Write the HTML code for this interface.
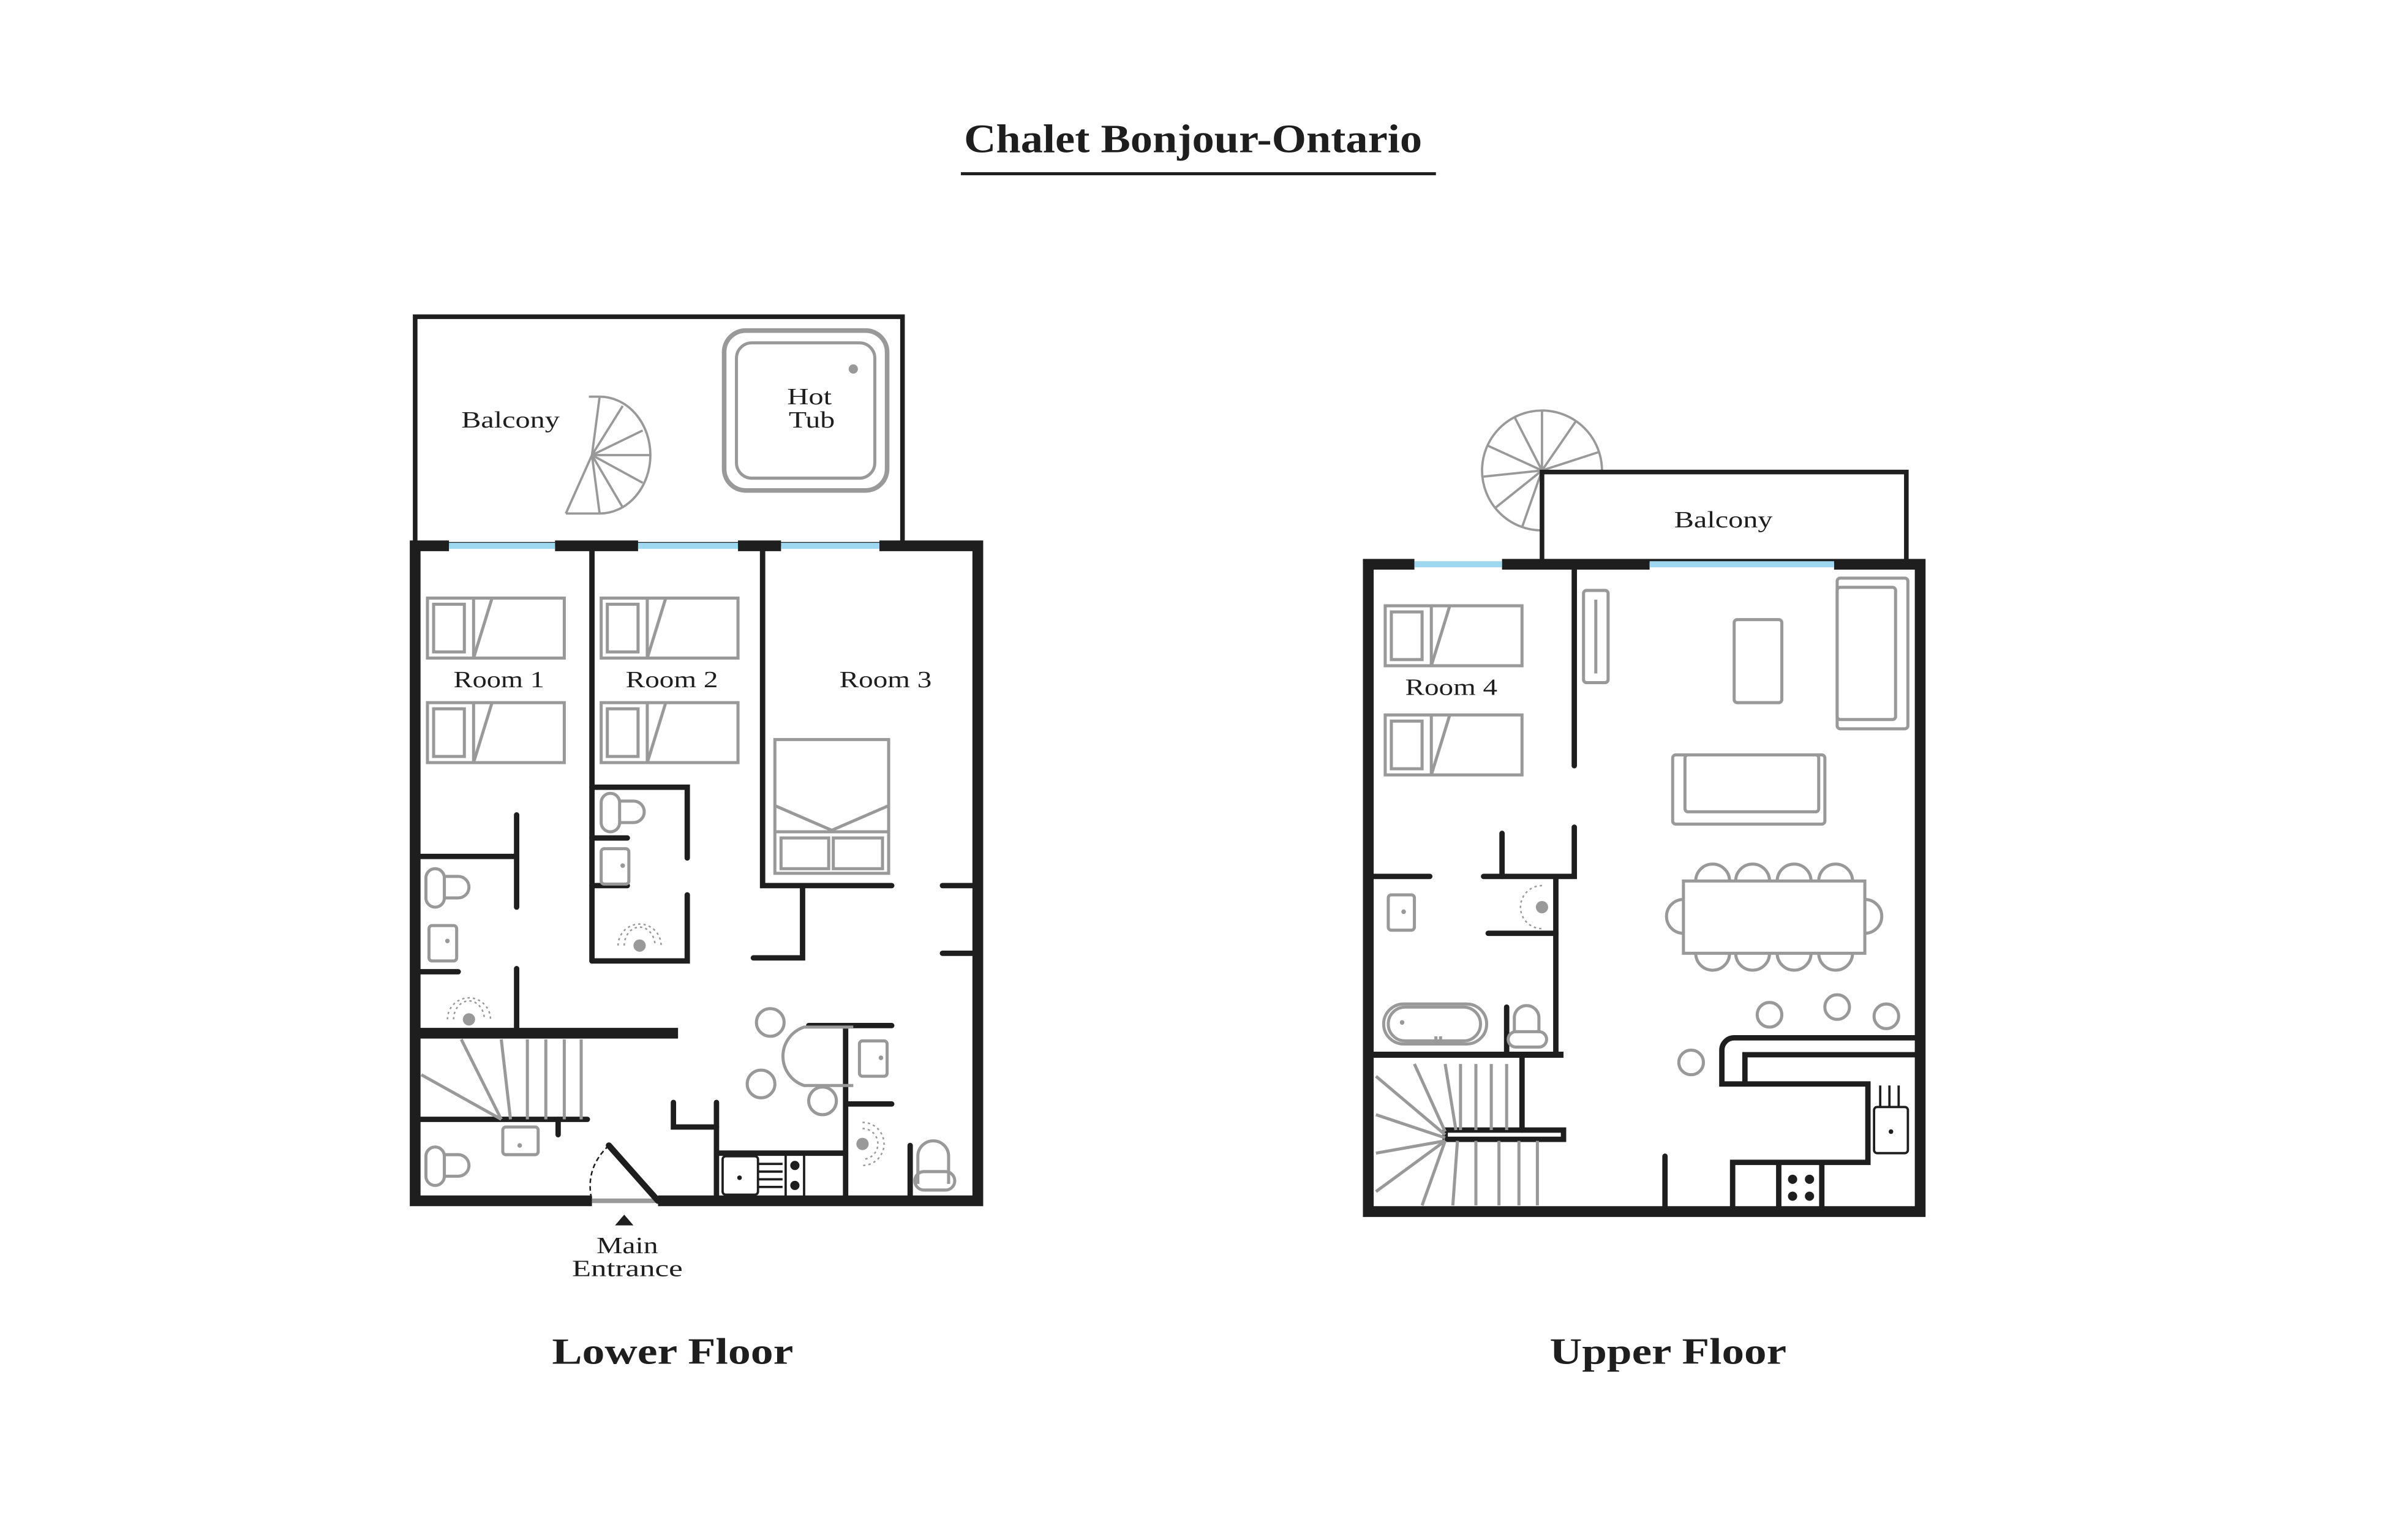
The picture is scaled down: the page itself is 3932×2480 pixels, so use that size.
<!DOCTYPE html>
<html><head><meta charset="utf-8"><style>
html,body{margin:0;padding:0;background:#fff;}
svg{display:block;}
text{font-family:"Liberation Serif",serif;fill:#1e1e1e;}
</style></head><body>
<svg width="3932" height="2480" viewBox="0 0 1560 984" xmlns="http://www.w3.org/2000/svg">
<rect width="1560" height="984" fill="#fff"/>
<g transform="scale(0.996)">
<text x="627" y="99" font-size="26" font-weight="bold" textLength="298" lengthAdjust="spacingAndGlyphs">Chalet Bonjour-Ontario</text>
<line x1="625" y1="113" x2="934" y2="113" stroke="#1e1e1e" stroke-width="2"/>

<!-- LOWER FLOOR -->
<rect x="270" y="206" width="317" height="148" fill="none" stroke="#1e1e1e" stroke-width="3"/>
<rect x="471" y="215" width="106" height="104" rx="14" fill="none" stroke="#999" stroke-width="3"/>
<rect x="479" y="223" width="90" height="88" rx="10" fill="none" stroke="#999" stroke-width="2"/>
<circle cx="555" cy="240" r="3" fill="#999"/>
<text x="512" y="263" font-size="15" textLength="29" lengthAdjust="spacingAndGlyphs">Hot</text>
<text x="513" y="278" font-size="15" textLength="30" lengthAdjust="spacingAndGlyphs">Tub</text>
<text x="300" y="278" font-size="15" textLength="64" lengthAdjust="spacingAndGlyphs">Balcony</text>
<g stroke="#999" stroke-width="1.5" fill="none">
<path d="M390 258 A33 38 0 0 1 390 334"/>
<line x1="385" y1="296" x2="390" y2="258"/><line x1="385" y1="296" x2="405" y2="264"/><line x1="385" y1="296" x2="418" y2="280"/><line x1="385" y1="296" x2="423" y2="296"/><line x1="385" y1="296" x2="418" y2="314"/><line x1="385" y1="296" x2="405" y2="330"/><line x1="385" y1="296" x2="390" y2="334"/><line x1="385" y1="296" x2="368" y2="334"/>
<line x1="368" y1="334" x2="390" y2="334"/><line x1="390" y1="258" x2="383" y2="258"/>
</g>
<g stroke="#1e1e1e" stroke-width="7" fill="none">
<polyline points="385,781 270,781 270,355 292,355"/>
<line x1="361" y1="355" x2="415" y2="355"/>
<line x1="480" y1="355" x2="508" y2="355"/>
<polyline points="572,355 636,355 636,781 428,781"/>
<line x1="270" y1="672" x2="441" y2="672"/>
</g>
<g stroke="#9dd8f0" stroke-width="4">
<line x1="292" y1="355" x2="361" y2="355"/><line x1="415" y1="355" x2="480" y2="355"/><line x1="508" y1="355" x2="572" y2="355"/>
</g>
<line x1="385" y1="781" x2="428" y2="781" stroke="#999" stroke-width="3"/>
<g stroke="#1e1e1e" stroke-width="3.5" fill="none" stroke-linecap="round">
<line x1="385" y1="355" x2="385" y2="625"/>
<polyline points="385,625 447,625 447,582"/>
<polyline points="385,512 447,512 447,558"/>
<line x1="385" y1="545" x2="408" y2="545"/>
<line x1="385" y1="576" x2="408" y2="576"/>
<polyline points="496,355 496,576 580,576"/>
<polyline points="522,578 522,623 490,623"/>
<line x1="613" y1="576" x2="636" y2="576"/>
<line x1="613" y1="620" x2="636" y2="620"/>
<line x1="270" y1="557" x2="336" y2="557"/>
<line x1="336" y1="530" x2="336" y2="590"/>
<line x1="336" y1="630" x2="336" y2="670"/>
<line x1="270" y1="632" x2="298" y2="632"/>
<line x1="270" y1="728" x2="382" y2="728"/>
<line x1="363" y1="728" x2="363" y2="738"/>
<polyline points="438,717 438,733 466,733"/>
<line x1="466" y1="717" x2="466" y2="781"/>
<line x1="466" y1="750" x2="550" y2="750"/>
<line x1="550" y1="667" x2="550" y2="781"/>
<line x1="526" y1="667" x2="580" y2="667"/>
<line x1="550" y1="718" x2="580" y2="718"/>
<line x1="592" y1="745" x2="592" y2="781"/>
<line x1="396" y1="745" x2="428" y2="781" stroke-width="4"/>
</g>
<path d="M396 745 Q380 760 385 781" stroke="#1e1e1e" stroke-width="1" stroke-dasharray="3,2" fill="none"/>
<polygon points="406,790 412,797 400,797" fill="#1e1e1e"/>
<text x="388" y="815" font-size="15" textLength="40" lengthAdjust="spacingAndGlyphs">Main</text>
<text x="372" y="830" font-size="15" textLength="72" lengthAdjust="spacingAndGlyphs">Entrance</text>
<g stroke="#999" stroke-width="2" fill="none">
<rect x="278" y="389" width="89" height="39"/><rect x="282" y="393" width="20" height="31"/><line x1="308" y1="389" x2="308" y2="428"/><line x1="308" y1="428" x2="320" y2="389"/>
<rect x="278" y="457" width="89" height="39"/><rect x="282" y="461" width="20" height="31"/><line x1="308" y1="457" x2="308" y2="496"/><line x1="308" y1="496" x2="320" y2="457"/>
<rect x="391" y="389" width="89" height="39"/><rect x="395" y="393" width="20" height="31"/><line x1="421" y1="389" x2="421" y2="428"/><line x1="421" y1="428" x2="433" y2="389"/>
<rect x="391" y="457" width="89" height="39"/><rect x="395" y="461" width="20" height="31"/><line x1="421" y1="457" x2="421" y2="496"/><line x1="421" y1="496" x2="433" y2="457"/>
<rect x="504" y="481" width="74" height="87"/><polyline points="504,524 541,540 578,524"/><line x1="504" y1="541" x2="578" y2="541"/>
<rect x="508" y="545" width="31" height="20"/><rect x="542" y="545" width="32" height="20"/>
<rect x="277" y="565" width="12" height="25" rx="6"/><path d="M289 570 h9 a7 7 0 0 1 0 14 h-9"/>
<rect x="391" y="516" width="12" height="25" rx="6"/><path d="M403 521 h9 a7 7 0 0 1 0 14 h-9"/>
<rect x="277" y="746" width="12" height="25" rx="6"/><path d="M289 751 h9 a7 7 0 0 1 0 14 h-9"/>
<path d="M597 770 v-18 a10 10 0 0 1 20 0 v18"/><rect x="595" y="762" width="26" height="12" rx="6"/>
<rect x="279" y="602" width="18" height="23" rx="2"/>
<rect x="391" y="552" width="18" height="23" rx="2"/>
<rect x="559" y="677" width="18" height="23" rx="2"/>
<rect x="327" y="733" width="23" height="18" rx="2"/>
<path d="M555 668 H523 A20 20 0 0 0 523 706 H555"/>
<circle cx="501" cy="665" r="9"/><circle cx="495" cy="705" r="9"/><circle cx="535" cy="716" r="9"/>
<line x1="274" y1="699" x2="326" y2="728"/><line x1="300" y1="676" x2="326" y2="728"/><line x1="326" y1="676" x2="332" y2="728"/>
<line x1="343" y1="676" x2="343" y2="728"/><line x1="355" y1="676" x2="355" y2="728"/><line x1="367" y1="676" x2="367" y2="728"/><line x1="378" y1="676" x2="378" y2="728"/>
</g>
<g fill="#999">
<circle cx="305" cy="663" r="4"/><circle cx="416" cy="615" r="4"/><circle cx="561" cy="744" r="4"/>
<circle cx="291" cy="612" r="1.5"/><circle cx="405" cy="563" r="1.5"/><circle cx="573" cy="688" r="1.5"/><circle cx="338" cy="745" r="1.5"/>
</g>
<g stroke="#999" stroke-width="1" stroke-dasharray="1.5,2" fill="none">
<path d="M291 663 A14 14 0 0 1 319 663"/><path d="M295 663 A10 12 0 0 1 315 663"/>
<path d="M402 615 A14 14 0 0 1 430 615"/><path d="M406 615 A10 12 0 0 1 426 615"/>
<path d="M561 730 A14 14 0 0 1 561 758"/><path d="M561 734 A10 10 0 0 1 561 754"/>
</g>
<g stroke="#1e1e1e" stroke-width="1.5" fill="none">
<rect x="470" y="752" width="23" height="25" rx="2"/>
<line x1="493" y1="757" x2="509" y2="757"/><line x1="493" y1="762" x2="509" y2="762"/><line x1="493" y1="767" x2="509" y2="767"/><line x1="493" y1="772" x2="509" y2="772"/>
<line x1="511" y1="750" x2="511" y2="781"/><line x1="523" y1="750" x2="523" y2="781"/>
</g>
<circle cx="517" cy="758" r="3" fill="#1e1e1e"/><circle cx="517" cy="771" r="3" fill="#1e1e1e"/><circle cx="481" cy="766" r="1.5" fill="#1e1e1e"/>
<text x="295" y="447" font-size="15" textLength="59" lengthAdjust="spacingAndGlyphs">Room 1</text>
<text x="407" y="447" font-size="15" textLength="60" lengthAdjust="spacingAndGlyphs">Room 2</text>
<text x="546" y="447" font-size="15" textLength="60" lengthAdjust="spacingAndGlyphs">Room 3</text>
<text x="359" y="887" font-size="24" font-weight="bold" textLength="157" lengthAdjust="spacingAndGlyphs">Lower Floor</text>

<!-- UPPER FLOOR -->
<g stroke="#999" stroke-width="1.5" fill="none">
<circle cx="1003" cy="306" r="39"/>
<line x1="1003" y1="306" x2="1003" y2="267"/><line x1="1003" y1="306" x2="1025" y2="274"/><line x1="1003" y1="306" x2="1040" y2="294"/><line x1="1003" y1="306" x2="985" y2="271"/><line x1="1003" y1="306" x2="968" y2="290"/><line x1="1003" y1="306" x2="965" y2="310"/><line x1="1003" y1="306" x2="973" y2="330"/><line x1="1003" y1="306" x2="990" y2="343"/>
</g>
<rect x="1003" y="307" width="237" height="58" fill="#fff" stroke="#1e1e1e" stroke-width="3"/>
<text x="1089" y="343" font-size="15" textLength="64" lengthAdjust="spacingAndGlyphs">Balcony</text>
<g stroke="#1e1e1e" stroke-width="7" fill="none">
<polyline points="920,367 890,367 890,788 1249,788 1249,367 1193,367"/>
<line x1="977" y1="367" x2="1073" y2="367"/>
<line x1="890" y1="686" x2="1017" y2="686" stroke-width="4"/>
</g>
<g stroke="#9dd8f0" stroke-width="4"><line x1="920" y1="367" x2="977" y2="367"/><line x1="1073" y1="367" x2="1193" y2="367"/></g>
<g stroke="#1e1e1e" stroke-width="3.5" fill="none" stroke-linecap="round">
<line x1="1024" y1="370" x2="1024" y2="498"/>
<polyline points="1024,538 1024,570 965,570"/>
<line x1="977" y1="542" x2="977" y2="570"/>
<line x1="890" y1="570" x2="930" y2="570"/>
<line x1="1012" y1="570" x2="1012" y2="686"/>
<line x1="968" y1="607" x2="1012" y2="607"/>
<line x1="980" y1="655" x2="980" y2="686"/>
<line x1="990" y1="686" x2="990" y2="735"/>
<polyline points="990,735 1017,735 1017,741 940,741 940,735 990,735"/>
<line x1="1083" y1="752" x2="1083" y2="788"/>
<path d="M1249 675 H1128 A8 8 0 0 0 1120 683 V705 H1215 V756 H1127 V788"/>
<polyline points="1249,686 1135,686 1135,705"/>
<line x1="1157" y1="756" x2="1157" y2="788"/><line x1="1185" y1="756" x2="1185" y2="788"/>
</g>
<g fill="#1e1e1e"><circle cx="1166" cy="767" r="3"/><circle cx="1177" cy="767" r="3"/><circle cx="1166" cy="778" r="3"/><circle cx="1177" cy="778" r="3"/></g>
<g stroke="#1e1e1e" stroke-width="1.5" fill="none">
<rect x="1219" y="720" width="22" height="30" rx="2"/>
<line x1="1223" y1="706" x2="1223" y2="720"/><line x1="1229" y1="706" x2="1229" y2="720"/><line x1="1235" y1="706" x2="1235" y2="720"/>
</g>
<circle cx="1230" cy="736" r="1.5" fill="#1e1e1e"/>
<g stroke="#999" stroke-width="2" fill="none">
<rect x="901" y="394" width="89" height="39"/><rect x="905" y="398" width="20" height="31"/><line x1="931" y1="394" x2="931" y2="433"/><line x1="931" y1="433" x2="943" y2="394"/>
<rect x="901" y="465" width="89" height="39"/><rect x="905" y="469" width="20" height="31"/><line x1="931" y1="465" x2="931" y2="504"/><line x1="931" y1="504" x2="943" y2="465"/>
<rect x="1030" y="384" width="16" height="60" rx="2"/><line x1="1038" y1="390" x2="1038" y2="438"/>
<rect x="1128" y="403" width="31" height="54" rx="2"/>
<rect x="1195" y="376" width="46" height="98" rx="2"/><rect x="1195" y="382" width="38" height="86" rx="2"/>
<rect x="1088" y="491" width="99" height="45" rx="2"/><rect x="1096" y="491" width="87" height="37" rx="2"/>
<rect x="1095" y="573" width="118" height="47"/>
<path d="M1103 573 a11 11 0 0 1 22 0 M1129 573 a11 11 0 0 1 22 0 M1156 573 a11 11 0 0 1 22 0 M1183 573 a11 11 0 0 1 22 0"/>
<path d="M1103 620 a11 11 0 0 0 22 0 M1129 620 a11 11 0 0 0 22 0 M1156 620 a11 11 0 0 0 22 0 M1183 620 a11 11 0 0 0 22 0"/>
<path d="M1095 585 a11 11 0 0 0 0 22 M1213 585 a11 11 0 0 1 0 22"/>
<circle cx="1151" cy="660" r="8"/><circle cx="1195" cy="655" r="8"/><circle cx="1227" cy="661" r="8"/><circle cx="1100" cy="691" r="8"/>
<rect x="903" y="582" width="17" height="23" rx="2"/>
<rect x="900" y="653" width="67" height="26" rx="13"/><rect x="903" y="655" width="60" height="22" rx="11"/>
<path d="M985 672 v-10 a8 8 0 0 1 16 0 v10"/><rect x="981" y="671" width="25" height="10" rx="5"/>
<line x1="934" y1="674" x2="934" y2="680"/><line x1="937" y1="674" x2="937" y2="680"/>
<line x1="895" y1="700" x2="940" y2="738"/><line x1="895" y1="725" x2="940" y2="740"/><line x1="895" y1="750" x2="940" y2="742"/><line x1="895" y1="775" x2="940" y2="742"/>
<line x1="920" y1="692" x2="940" y2="736"/><line x1="940" y1="692" x2="947" y2="735"/><line x1="950" y1="692" x2="950" y2="735"/><line x1="960" y1="692" x2="960" y2="735"/><line x1="970" y1="692" x2="970" y2="735"/><line x1="980" y1="692" x2="980" y2="735"/>
<line x1="925" y1="784" x2="940" y2="742"/><line x1="945" y1="784" x2="948" y2="742"/><line x1="960" y1="784" x2="960" y2="742"/><line x1="975" y1="784" x2="975" y2="742"/><line x1="988" y1="784" x2="988" y2="742"/><line x1="1000" y1="784" x2="1000" y2="742"/>
</g>
<circle cx="1003" cy="590" r="4" fill="#999"/>
<circle cx="913" cy="593" r="1.5" fill="#999"/><circle cx="912" cy="665" r="1.5" fill="#999"/>
<path d="M1003 576 A14 14 0 0 0 1003 604" stroke="#999" stroke-width="1" stroke-dasharray="1.5,2" fill="none"/>
<text x="914" y="452" font-size="15" textLength="60" lengthAdjust="spacingAndGlyphs">Room 4</text>
<text x="1008" y="887" font-size="24" font-weight="bold" textLength="154" lengthAdjust="spacingAndGlyphs">Upper Floor</text>
</g>
</svg>
</body></html>
